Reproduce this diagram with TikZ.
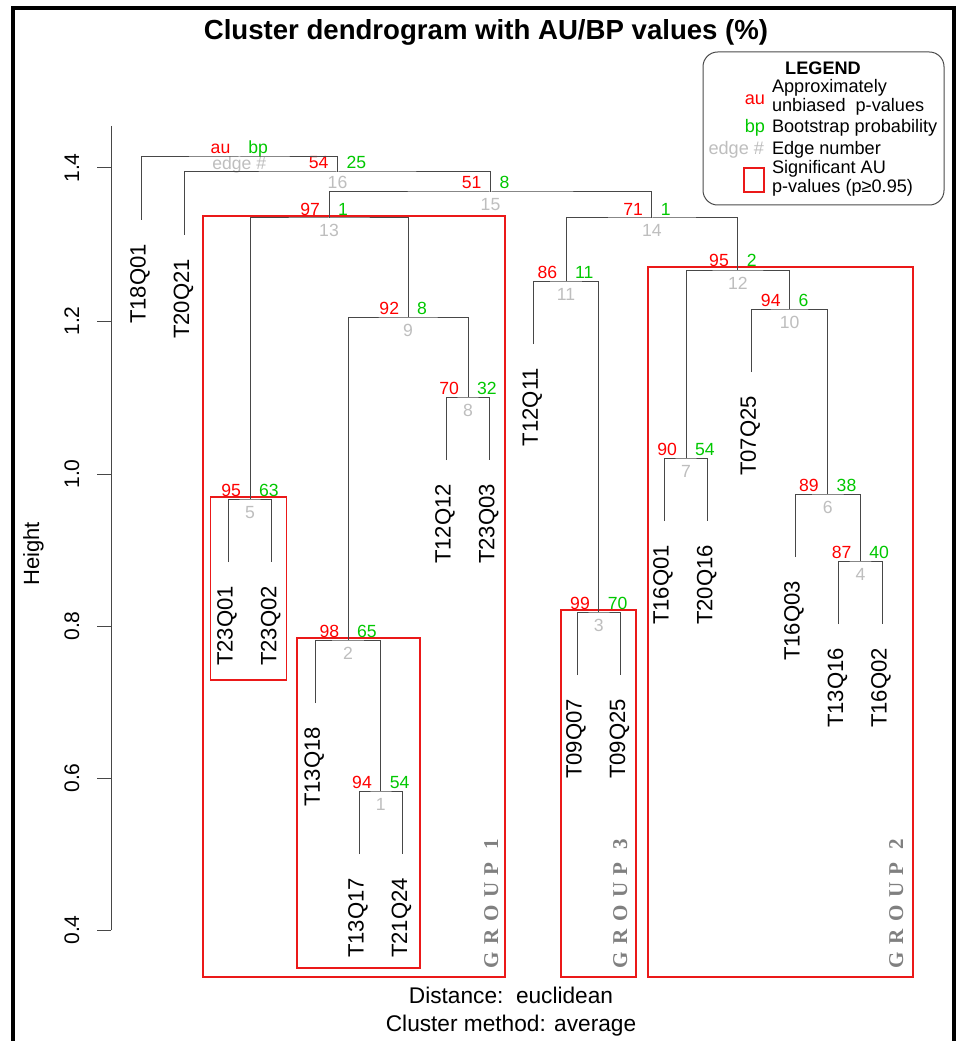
\documentclass[tikz,border=0pt]{standalone}
\usepackage{fontspec}
\setmainfont{Liberation Sans}
\newfontfamily\grpfont{Liberation Serif}[LetterSpace=35]
\usetikzlibrary{calc}
\definecolor{aured}{RGB}{255,0,0}
\definecolor{bpgreen}{RGB}{0,200,0}
\definecolor{edgegray}{RGB}{190,190,190}
\definecolor{grptext}{RGB}{128,128,128}
\definecolor{boxred}{RGB}{235,25,25}
\newcommand\dgLeaf{\fontsize{16.6}{19}\selectfont}
\newcommand\dgNum{\fontsize{13.2}{16}\selectfont}
\newcommand\dgLeg{\fontsize{13.6}{16}\selectfont}
\newcommand\dgTitle{\fontsize{20.7}{24}\selectfont\bfseries}
\newcommand\dgAxis{\fontsize{15.8}{19}\selectfont}
\newcommand\dgSub{\fontsize{17}{20}\selectfont}
\newcommand\dgGrp{\fontsize{15.8}{18}\selectfont\grpfont\bfseries}
\newcommand\pvnode[7]{% name, x, y, au, bp, edge, edge offset
  \coordinate (#1) at (#2,#3);
  \node[aulab] (#1au) at (#2-9,#3-3) {#4};
  \node[bplab] (#1bp) at (#2+9,#3-3) {#5};
  \node[edgelab] (#1ed) at (#2,#3+#7) {#6};
}
\newcommand\pvleaf[5]{% name, x, yend, label name, text
  \coordinate (#1) at (#2,#3);
  \node[leaflab] (#4) at (#2+4.5,#3+24) {#5};
}
\begin{document}
\begin{tikzpicture}[x=0.75pt,y=-0.75pt,
  dline/.style={draw=black!72, line width=0.75pt},
  redbox/.style={draw=boxred, line width=1.1pt},
  txt/.style={inner sep=0pt, outer sep=0pt},
  aulab/.style={txt, anchor=base east, text=aured, font=\dgNum},
  bplab/.style={txt, anchor=base west, text=bpgreen, font=\dgNum},
  edgelab/.style={txt, anchor=base, text=edgegray, font=\dgNum},
  leaflab/.style={txt, rotate=90, anchor=base east, font=\dgLeaf},
  ticklab/.style={txt, rotate=90, anchor=base, font=\dgAxis},
  leglab/.style={txt, anchor=base west, font=\dgLeg},
  legkey/.style={txt, anchor=base east, font=\dgLeg},
  grplab/.style={txt, rotate=90, anchor=base west, text=grptext, font=\dgGrp}
]
\useasboundingbox (0,0) rectangle (961,1041);
\clip (0,0) rectangle (961,1041);
\fill[white] (0,0) rectangle (961,1041);
% frame
\draw[line width=2.3pt] (13,1070) -- (13,8) -- (954,8) -- (954,1070);
% title
\node[txt, anchor=base, font=\dgTitle] (title) at (486,40) {Cluster dendrogram with AU/BP values (\%)};
% axis
\coordinate (axtop) at (111,126);
\coordinate (axbot) at (111,930);
\draw[dline] (axtop) -- (axbot);
\foreach \v/\yy/\k in {1.4/168/a, 1.2/321/b, 1.0/474/c, 0.8/626/d, 0.6/778/e, 0.4/930/f}{
  \coordinate (tk\k) at (111,\yy);
  \draw[dline] (tk\k) -- ++(-14,0);
  \node[ticklab] (tl\k) at (79,\yy) {\v};
}
\node[txt, rotate=90, anchor=base, font=\fontsize{16.5}{19}\selectfont] (ylab) at (39,554) {Height};
% red boxes
\draw[redbox] (203,216) rectangle (505,977);
\draw[redbox] (210.5,497) rectangle (286.5,680);
\draw[redbox] (297,638) rectangle (420,968);
\draw[redbox] (561,610) rectangle (636,977);
\draw[redbox] (648,267) rectangle (913,977);
% group labels
\node[grplab] (g1) at (498,968) {GROUP 1};
\node[grplab] (g3) at (627,968) {GROUP 3};
\node[grplab] (g2) at (903,968) {GROUP 2};
% leaves
\pvleaf{L1}{141}{220}{t1}{T18Q01}
\pvleaf{L2}{184.6}{235}{t2}{T20Q21}
\pvleaf{L3}{228.2}{562}{t3}{T23Q01}
\pvleaf{L4}{271.8}{562}{t4}{T23Q02}
\pvleaf{L5}{315.4}{703}{t5}{T13Q18}
\pvleaf{L6}{359}{854}{t6}{T13Q17}
\pvleaf{L7}{402.6}{854}{t7}{T21Q24}
\pvleaf{L8}{446.2}{460}{t8}{T12Q12}
\pvleaf{L9}{489.8}{460}{t9}{T23Q03}
\pvleaf{L10}{533.4}{344}{t10}{T12Q11}
\pvleaf{L11}{577}{675}{t11}{T09Q07}
\pvleaf{L12}{620.6}{675}{t12}{T09Q25}
\pvleaf{L13}{664.2}{521}{t13}{T16Q01}
\pvleaf{L14}{707.8}{521}{t14}{T20Q16}
\pvleaf{L15}{751.4}{372}{t15}{T07Q25}
\pvleaf{L16}{795}{557}{t16}{T16Q03}
\pvleaf{L17}{838.6}{624}{t17}{T13Q16}
\pvleaf{L18}{882.2}{624}{t18}{T16Q02}
% internal nodes
\pvnode{n1}{380.8}{791}{94}{54}{1}{19}
\pvnode{n2}{348.1}{640}{98}{65}{2}{19}
\pvnode{n3}{598.8}{612}{99}{70}{3}{19}
\pvnode{n4}{860.4}{561}{87}{40}{4}{19}
\pvnode{n5}{250}{499}{95}{63}{5}{19}
\pvnode{n6}{827.7}{494}{89}{38}{6}{19}
\pvnode{n7}{686}{458}{90}{54}{7}{19}
\pvnode{n8}{468}{397}{70}{32}{8}{19}
\pvnode{n9}{408.05}{317}{92}{8}{9}{19}
\pvnode{n10}{789.55}{309}{94}{6}{10}{19}
\pvnode{n11}{566.1}{281}{86}{11}{11}{19}
\pvnode{n12}{737.8}{270}{95}{2}{12}{19}
\pvnode{n13}{329}{218}{97}{1}{13}{19}
\pvnode{n14}{651.95}{218}{71}{1}{14}{19}
\pvnode{n15}{490.5}{192}{51}{8}{15}{19}
\pvnode{n16}{337.5}{172}{54}{25}{16}{17}
\pvnode{n17}{239.3}{157}{au}{bp}{edge \#}{13}
% brackets
\draw[dline] (L6) |- (n1) -| (L7);
\draw[dline] (L5) |- (n2) -| (n1);
\draw[dline] (L11) |- (n3) -| (L12);
\draw[dline] (L17) |- (n4) -| (L18);
\draw[dline] (L3) |- (n5) -| (L4);
\draw[dline] (L16) |- (n6) -| (n4);
\draw[dline] (L13) |- (n7) -| (L14);
\draw[dline] (L8) |- (n8) -| (L9);
\draw[dline] (n2) |- (n9) -| (n8);
\draw[dline] (L15) |- (n10) -| (n6);
\draw[dline] (L10) |- (n11) -| (n3);
\draw[dline] (n7) |- (n12) -| (n10);
\draw[dline] (n5) |- (n13) -| (n9);
\draw[dline] (n11) |- (n14) -| (n12);
\draw[dline] (n13) |- (n15) -| (n14);
\draw[dline] (L2) |- (n16) -| (n15);
\draw[dline] (L1) |- (n17) -| (n16);
% legend
\draw[draw=black!70, line width=0.75pt, rounded corners=11pt] (703,52) rectangle (944,205);
\node[txt, anchor=base, font=\dgLeg\bfseries] (legt) at (823,75) {LEGEND};
\node[leglab] (lg1) at (772,93) {Approximately};
\node[leglab] (lg2) at (772,112) {unbiased\ \ p-values};
\node[legkey, text=aured] (lk1) at (765,105) {au};
\node[leglab] (lg3) at (772,133) {Bootstrap probability};
\node[legkey, text=bpgreen] (lk2) at (765,133) {bp};
\node[leglab] (lg4) at (772,155) {Edge number};
\node[legkey, text=edgegray] (lk3) at (764,155) {edge \#};
\draw[redbox] (744,168) rectangle (764,192);
\node[leglab] (lg5) at (772,174) {Significant AU};
\node[leglab] (lg6) at (772,193) {p-values (p≥0.95)};
% bottom text
\node[txt, anchor=base, font=\dgSub] (dist) at (511,1003) {Distance:\ \ euclidean};
\node[txt, anchor=base, font=\dgSub] (meth) at (511,1031) {Cluster method: average};
\end{tikzpicture}
\end{document}
